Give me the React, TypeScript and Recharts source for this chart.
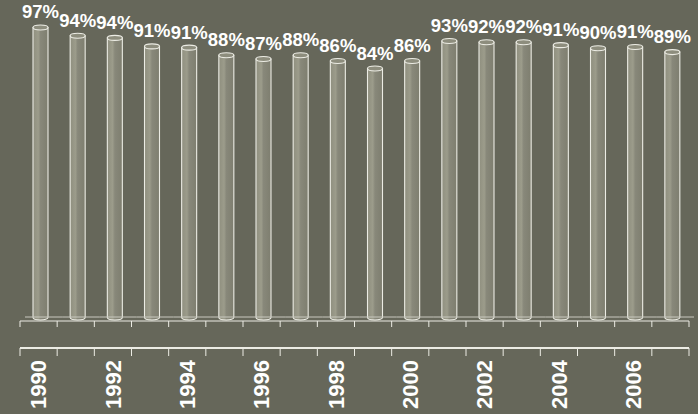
import React from 'react';
import { BarChart, Bar, XAxis, YAxis, LabelList } from 'recharts';

const years = ['1990','1991','1992','1993','1994','1995','1996','1997','1998','1999','2000','2001','2002','2003','2004','2005','2006','2007'];
const shares = [97, 94.4, 93.7, 91, 90.6, 88.2, 87, 88.2, 86.4, 84, 86.4, 92.7, 92.3, 92.3, 91.4, 90.4, 90.8, 89.2];
const labeledYears = ['1990','1992','1994','1996','1998','2000','2002','2004','2006'];

const data = years.map((year, i) => ({ year, share: shares[i] }));

const W = 698;
const H = 414;
const BG = '#66675a';
const LINE = '#ecece4';
const FLOOR = '#c9c9bf';
const FONT = '"Liberation Sans", Arial, sans-serif';

const Cylinder = (props: any) => {
  const { x, y, width, height } = props;
  if (height == null || width == null) return null;
  const cx = x + width / 2 + 2;
  const rx = width / 2;
  const ry = 2.5;
  const left = cx - rx;
  const right = cx + rx;
  const bottom = y + height - 1;
  const body = `M ${left} ${y} L ${left} ${bottom - ry} A ${rx} ${ry} 0 0 0 ${right} ${bottom - ry} L ${right} ${y} Z`;
  return (
    <g>
      <path d={body} fill="url(#cylGrad)" stroke={LINE} strokeWidth={1.1} />
      <ellipse cx={cx} cy={y} rx={rx} ry={ry} fill="#8d8d7d" stroke={LINE} strokeWidth={1.1} />
    </g>
  );
};

const PctLabel = (props: any) => {
  const { x, y, width, value } = props;
  const cx = x + width / 2 + 2;
  return (
    <text x={cx} y={y - 9} textAnchor="middle" fill="#ffffff" fontFamily={FONT} fontWeight="bold" fontSize={18.5}>
      {Math.round(value)}%
    </text>
  );
};

const FloorTick = (props: any) => {
  const { x, y, payload, index } = props;
  const half = payload && payload.offset ? payload.offset : 37.17 / 2;
  const lx = x - half;
  const rx = x + half;
  return (
    <g>
      <line x1={lx + 5} y1={y - 4} x2={rx + 5} y2={y - 4} stroke={FLOOR} strokeWidth={1} />
      <line x1={lx} y1={y} x2={lx} y2={y + 6} stroke={LINE} strokeWidth={1} />
      {index === years.length - 1 && <line x1={rx} y1={y} x2={rx} y2={y + 6} stroke={LINE} strokeWidth={1} />}
    </g>
  );
};

const YearTick = (props: any) => {
  const { x, y, payload, index } = props;
  const half = payload && payload.offset ? payload.offset : 37.17 / 2;
  const lx = x - half;
  const rx = x + half;
  const show = labeledYears.includes(String(payload.value));
  return (
    <g>
      <line x1={lx} y1={y} x2={lx} y2={y + 8} stroke={LINE} strokeWidth={1} />
      {index === years.length - 1 && <line x1={rx} y1={y} x2={rx} y2={y + 8} stroke={LINE} strokeWidth={1} />}
      {show && (
        <text
          transform={`translate(${x}, ${y + 12}) rotate(-90)`}
          textAnchor="end"
          dy="0.35em"
          fill="#ffffff"
          fontFamily={FONT}
          fontWeight="bold"
          fontSize={22}
        >
          {payload.value}
        </text>
      )}
    </g>
  );
};

export default function App() {
  return (
    <div style={{ position: 'absolute', left: 0, top: 0, width: W, height: H, background: BG }}>
      <BarChart width={W} height={H} data={data} margin={{ top: 18, right: 9, bottom: 0, left: 20 }} barSize={15}>
        <defs>
          <linearGradient id="cylGrad" x1="0" y1="0" x2="1" y2="0">
            <stop offset="0%" stopColor="#8f8f7f" />
            <stop offset="35%" stopColor="#9c9c8b" />
            <stop offset="50%" stopColor="#88887a" />
            <stop offset="100%" stopColor="#7e7e6f" />
          </linearGradient>
        </defs>
        <YAxis hide domain={[4, 100]} allowDataOverflow />
        <XAxis
          xAxisId="bars"
          dataKey="year"
          height={27}
          interval={0}
          axisLine={{ stroke: LINE, strokeWidth: 1 }}
          tickLine={false}
          tickSize={0}
          tickMargin={0}
          tick={<FloorTick />}
        />
        <XAxis
          xAxisId="labels"
          dataKey="year"
          height={66}
          interval={0}
          axisLine={{ stroke: LINE, strokeWidth: 2 }}
          tickLine={false}
          tickSize={0}
          tickMargin={0}
          tick={<YearTick />}
        />
        <Bar xAxisId="bars" dataKey="share" shape={<Cylinder />} isAnimationActive={false}>
          <LabelList dataKey="share" content={<PctLabel />} />
        </Bar>
      </BarChart>
    </div>
  );
}
